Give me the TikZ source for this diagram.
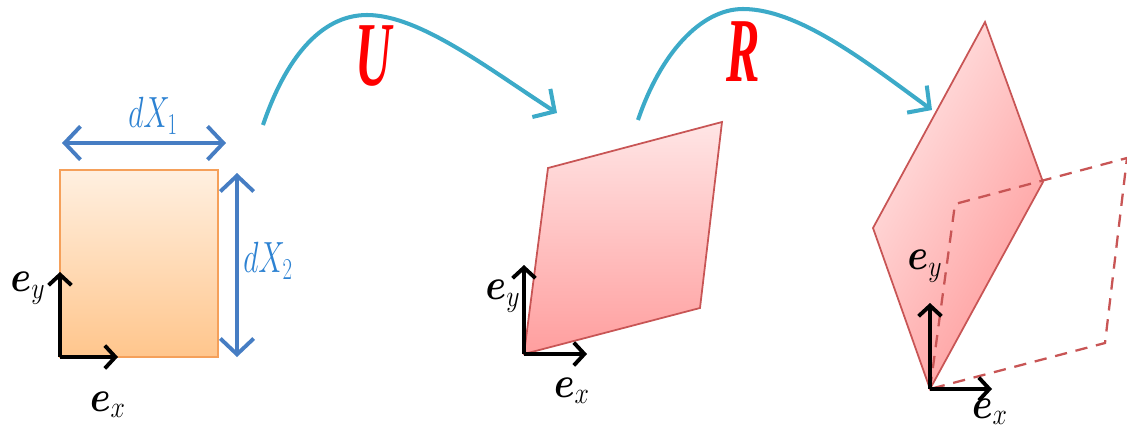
\documentclass[tikz,border=0pt]{standalone}
\usepackage{amsmath,amssymb,bm}
\usepackage{fontspec}
\newfontfamily\mapfont{Liberation Serif}
\usetikzlibrary{arrows.meta,positioning}

\definecolor{dimblue}{RGB}{70,125,195}
\definecolor{labelblue}{RGB}{45,130,210}
\definecolor{flowcyan}{RGB}{60,170,200}
\definecolor{edgered}{RGB}{200,85,85}
\definecolor{edgeorange}{RGB}{245,160,90}

\begin{document}
\begin{tikzpicture}[
		x=0.02cm,y=-0.02cm,
		axis/.style={
			line width=2.2pt,
			-{Straight Barb[length=6pt,width=13pt]}
		},
		dimline/.style={
			dimblue,
			line width=2.2pt,
			{Straight Barb[length=9pt,width=19pt]}-{Straight Barb[length=9pt,width=19pt]}
		},
		flow/.style={
			flowcyan,
			line width=2.3pt,
			-{Straight Barb[length=9pt,width=19pt]}
		},
		veclabel/.style={
			xscale=0.85,
			font=\fontsize{24}{28}\selectfont
		},
		dimlabel/.style={
			text=labelblue,
			xscale=0.68,
			font=\fontsize{25}{30}\selectfont
		},
		maplabel/.style={
			text=red,
			xscale=0.55,
			font=\fontsize{52}{56}\selectfont\mapfont\bfseries\itshape
		},
		plate/.style={
			draw=edgered,
			line width=1pt
		}
	]
	
	\useasboundingbox (0,0) rectangle (1127,447);
	
	% -------------------------------------------------------------------------
	% Reference element
	% -------------------------------------------------------------------------
	
	\coordinate (O1) at (60,357);
	\draw[draw=edgeorange,line width=1pt,top color=orange!12,bottom color=orange!45]
	(60,170) rectangle (218,357);
	
	\coordinate (D1a) at (62,143);
	\coordinate (D1b) at (226,143);
	\coordinate (D2a) at (237,173);
	\coordinate (D2b) at (237,357);
	\draw[dimline] (D1a) -- (D1b);
	\draw[dimline] (D2a) -- (D2b);
	
	\node[dimlabel] (dX1) at (153,116) {$dX_1$};
	\node[dimlabel] (dX2) at (268,261) {$dX_2$};
	
	\coordinate (Y1) at (60,272);
	\coordinate (X1) at (118,357);
	\draw[axis] (O1) -- (Y1);
	\draw[axis] (O1) -- (X1);
	\node[veclabel] (ey1) at (28,288) {$\bm{e}_y$};
	\node[veclabel] (ex1) at (108,405) {$\bm{e}_x$};
	
	% -------------------------------------------------------------------------
	% Stretched element
	% -------------------------------------------------------------------------
	
	\coordinate (O2) at (524,354);
	\draw[plate,top color=red!10,bottom color=red!38]
	(O2) -- (548,168) -- (722,122) -- (700,308) -- cycle;
	
	\coordinate (Y2) at (524,265);
	\coordinate (X2) at (587,354);
	\draw[axis] (O2) -- (Y2);
	\draw[axis] (O2) -- (X2);
	\node[veclabel] (ey2) at (503,296) {$\bm{e}_y$};
	\node[veclabel] (ex2) at (572,391) {$\bm{e}_x$};
	
	% -------------------------------------------------------------------------
	% Rotated element
	% -------------------------------------------------------------------------
	
	\coordinate (O3) at (930,389);
	\draw[plate,left color=red!10,right color=red!40,shading angle=60]
	(O3) -- (873,228) -- (985,22) -- (1043,182) -- cycle;
	\draw[plate,dashed,line width=1.3pt,dash pattern=on 7pt off 5pt]
	(O3) -- (955,204) -- (1127,158) -- (1105,343) -- cycle;
	
	\coordinate (Y3) at (930,303);
	\coordinate (X3) at (992,389);
	\draw[axis] (O3) -- (Y3);
	\draw[axis] (O3) -- (X3);
	\node[veclabel] (ey3) at (925,266) {$\bm{e}_y$};
	\node[veclabel] (ex3) at (990,412) {$\bm{e}_x$};
	
	% -------------------------------------------------------------------------
	% Maps
	% -------------------------------------------------------------------------
	
	\coordinate (Ustart) at (263,125);
	\coordinate (Utop) at (367,15);
	\coordinate (Uend) at (557,113);
	\draw[flow] (Ustart) .. controls (285,60) and (320,15) .. (Utop)
	.. controls (420,15) and (490,70) .. (Uend);
	\node[maplabel] (U) at (374,56) {U};
	
	\coordinate (Rstart) at (638,120);
	\coordinate (Rtop) at (743,9);
	\coordinate (Rend) at (932,110);
	\draw[flow] (Rstart) .. controls (660,55) and (700,9) .. (Rtop)
	.. controls (800,9) and (870,65) .. (Rend);
	\node[maplabel] (R) at (743,52) {R};
	
\end{tikzpicture}
\end{document}
